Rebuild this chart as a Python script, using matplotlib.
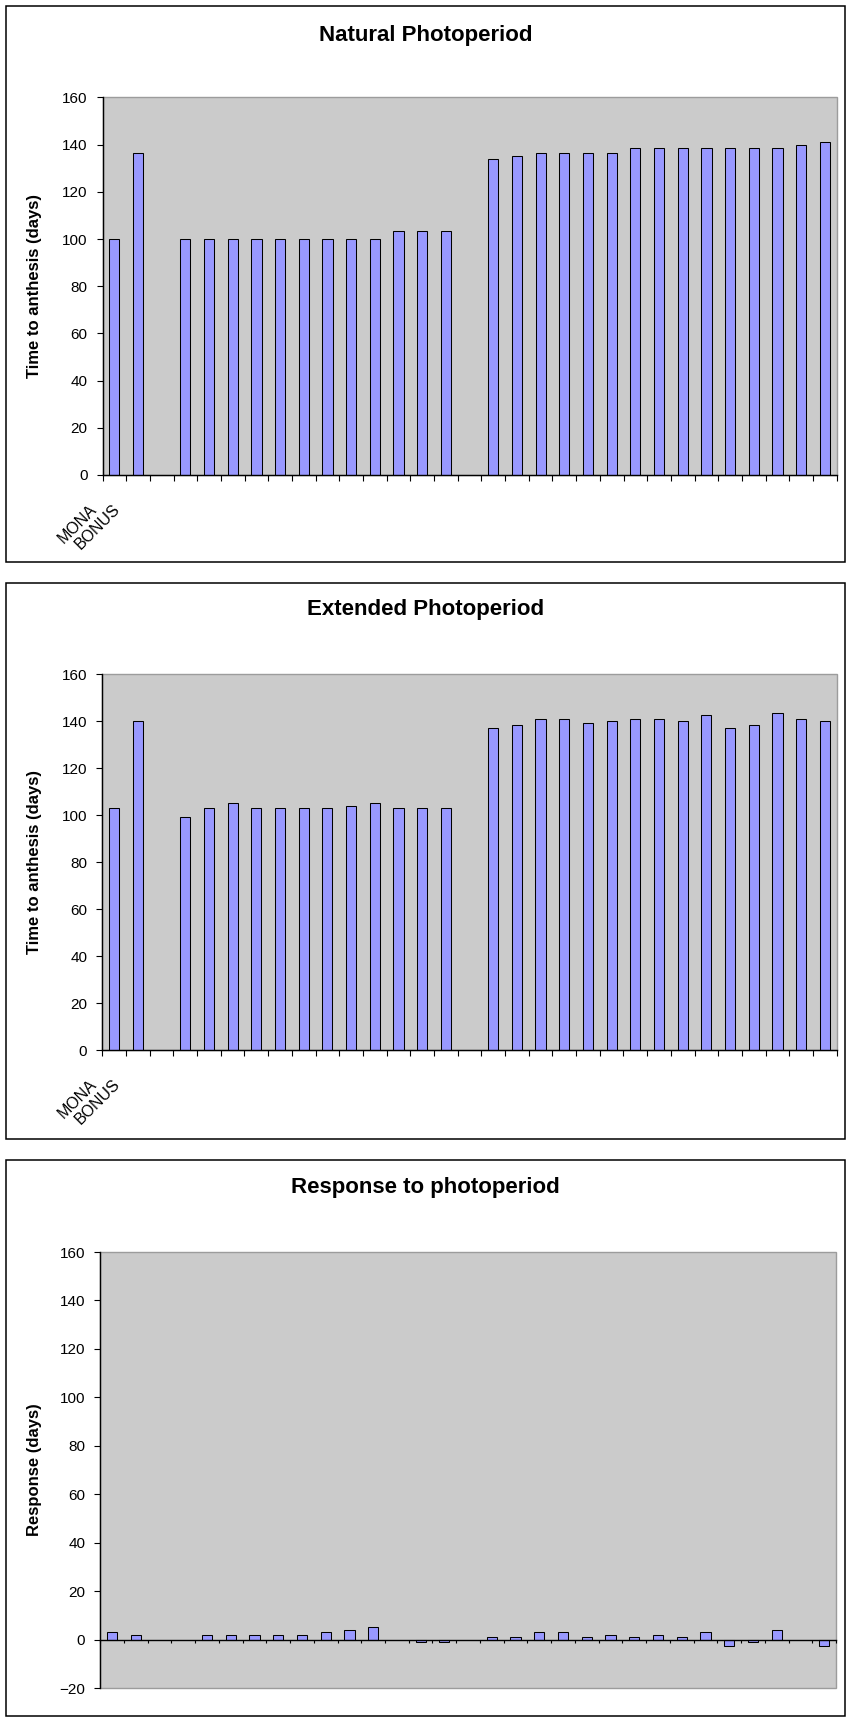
import numpy as np
import matplotlib
matplotlib.use("Agg")
import matplotlib.pyplot as plt
from matplotlib.patches import Rectangle
from matplotlib.transforms import ScaledTranslation

nan = np.nan

# ---------------- data ----------------
categories = ["MONA", "BONUS"] + [""] * 29

natural = [100, 136.5, nan,
           100, 100, 100, 100, 100, 100, 100, 100, 100, 103.5, 103.5, 103.5,
           nan,
           134, 135, 136.5, 136.5, 136.5, 136.5, 138.8, 138.8, 138.8, 138.8,
           138.8, 138.8, 138.8, 140, 141]

extended = [103, 140, nan,
            99, 103, 105, 103, 103, 103, 103, 104, 105, 103, 103, 103,
            nan,
            137, 138.5, 141, 141, 139, 140, 141, 141, 140, 142.5,
            137, 138.5, 143.5, 141, 140]

response = [3, 2, nan, nan,
            2, 2, 2, 2, 2, 3, 4, 5, nan, -1, -1,
            nan,
            1, 1, 3, 3, 1, 2, 1, 2, 1, 3, -2.5, -1, 4, nan, -2.5]

titles = ["Natural Photoperiod", "Extended Photoperiod", "Response to photoperiod"]
ylabels = ["Time to anthesis (days)", "Time to anthesis (days)", "Response (days)"]

# ---------------- style ----------------
plt.rcParams["font.family"] = ["Liberation Sans", "DejaVu Sans"]
W, H = 847, 1717
BAR = "#9999FF"
PLOT_BG = "#CBCBCB"

fig = plt.figure(figsize=(W / 100, H / 100), dpi=100)


def frac_rect(l, t, r, b):
    return [l / W, 1 - b / H, (r - l) / W, (b - t) / H]


layout = [
    dict(values=natural, box=(6, 6.5, 845, 562), title_y=36,
         ax=(102.5, 97.5, 836.7, 475), ylim=(0, 160), labels=True, xlen=4.3,
         zero_axis=False),
    dict(values=extended, box=(6, 583, 845, 1138.5), title_y=610,
         ax=(102.3, 674, 836.7, 1050), ylim=(0, 160), labels=True, xlen=4.3,
         zero_axis=False),
    dict(values=response, box=(6, 1160, 845, 1716), title_y=1188,
         ax=(100.2, 1252, 836, 1688), ylim=(-20, 160), labels=False, xlen=2.5,
         zero_axis=True),
]

x = np.arange(len(categories))

for i, p in enumerate(layout):
    bx0, by0, bx1, by1 = p["box"]
    fig.patches.append(Rectangle((bx0 / W, 1 - by1 / H), (bx1 - bx0) / W,
                                 (by1 - by0) / H, transform=fig.transFigure,
                                 fill=False, edgecolor="black", linewidth=1.1))
    fig.text(425.5 / W, 1 - p["title_y"] / H, titles[i], ha="center",
             va="center", fontsize=16, fontweight="bold")

    l, t, r, b = p["ax"]
    ax = fig.add_axes(frac_rect(l, t, r, b))
    ax.set_facecolor(PLOT_BG)
    ax.patch.set_edgecolor("#9c9c9c")
    ax.patch.set_linewidth(1.0)

    ax.bar(x, p["values"], width=0.43, color=BAR, edgecolor="black",
           linewidth=0.75, zorder=3)

    ax.set_xlim(-0.5, len(categories) - 0.5)
    ax.set_ylim(*p["ylim"])
    ax.set_yticks(np.arange(p["ylim"][0], 161, 20))

    ax.set_xticks(np.arange(-0.5, len(categories), 1.0))
    ax.set_xticklabels([])
    ax.set_xticks(x, minor=True)
    if p["labels"]:
        ax.set_xticklabels(categories, minor=True, rotation=45, ha="right",
                           va="top", fontsize=11.5)
    else:
        ax.set_xticklabels([""] * len(categories), minor=True)
    ax.tick_params(axis="x", which="minor", length=0, pad=19)
    ax.tick_params(axis="x", which="major", direction="out", length=p["xlen"],
                   width=0.8, color="black")
    ax.tick_params(axis="y", direction="out", length=4.3, width=0.8, pad=6.5,
                   labelsize=11, colors="black")

    for sp in ("top", "right"):
        ax.spines[sp].set_visible(False)
    ax.spines["left"].set_color("black")
    ax.spines["left"].set_linewidth(1.0)
    ax.spines["bottom"].set_color("black")
    ax.spines["bottom"].set_linewidth(1.0)
    if p["zero_axis"]:
        ax.spines["bottom"].set_position(("data", 0))
    ax.spines["bottom"].set_zorder(4)

    ax.set_ylabel(ylabels[i], fontsize=12, fontweight="bold", va="center")
    ax.yaxis.set_label_coords((34.5 - l) / (r - l), 0.5)

    if p["labels"]:
        off = ScaledTranslation(-14.7 / 100, 0, fig.dpi_scale_trans)
        for lbl in ax.get_xticklabels(minor=True):
            lbl.set_transform(lbl.get_transform() + off)

fig.savefig("out.png", dpi=100)
